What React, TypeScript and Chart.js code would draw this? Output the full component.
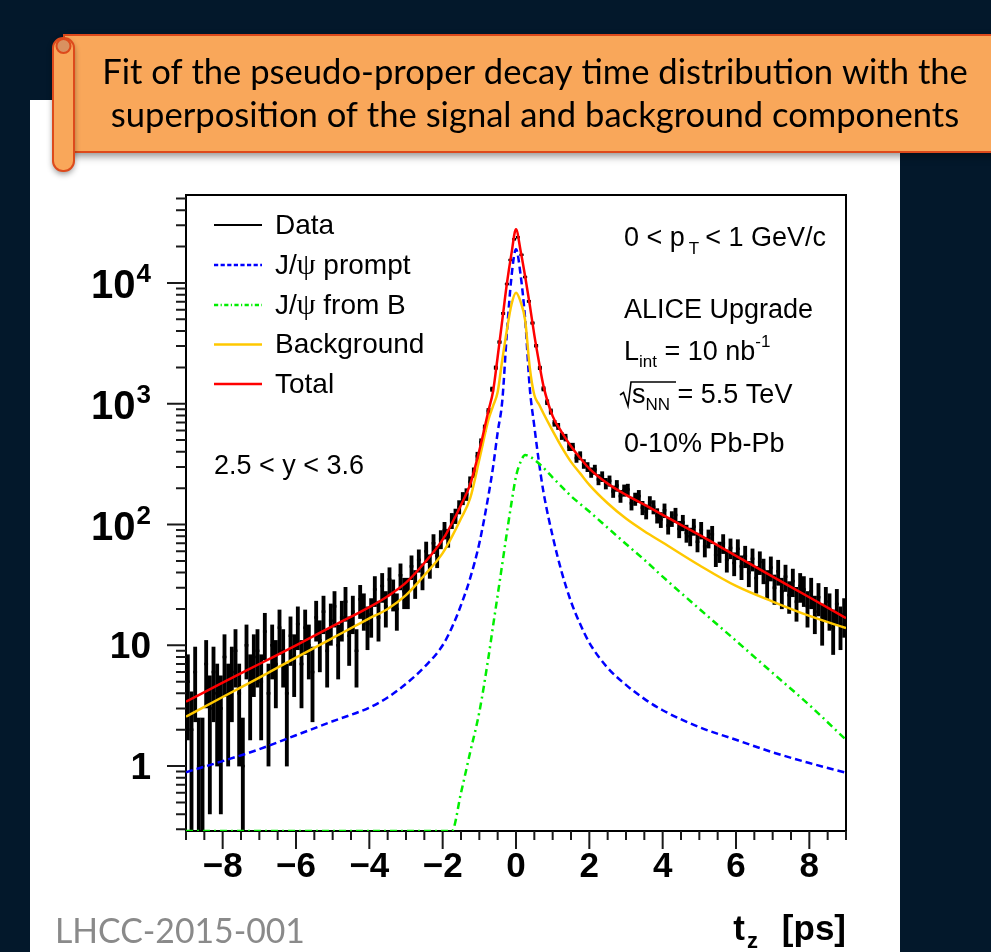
import React, { useEffect, useRef } from "react";
import { Chart, registerables } from "chart.js";

Chart.register(...registerables);

// ---------------- axis ranges ----------------
const X_MIN = -9;
const X_MAX = 9;
const Y_MIN = 0.29;
const Y_MAX = 53500;

// ---------------- data histogram (bin width 0.1 ps, from -9 to 9) ----------------
const BIN_LOW_EDGE = -9;
const BIN_WIDTH = 0.1;
const DATA_COUNTS = [
  5, 2, 6, 1, 1, 7, 3, 6, 4, 3,
  8, 4, 6, 9, 4, 1, 10, 5, 8, 9,
  5, 13, 4, 10, 7, 14, 9, 4, 12, 8,
  15, 7, 14, 10, 6, 17, 11, 19, 9, 16,
  21, 10, 17, 23, 12, 19, 9, 24, 20, 15,
  18, 29, 17, 31, 21, 35, 27, 20, 38, 28,
  28, 45, 33, 51, 38, 60, 46, 70, 55, 76, 90, 78, 108, 118, 140,
  165, 178, 226, 270, 368, 480, 630, 870, 1320, 1990, 3240, 5600, 9800, 15500, 23000,
  23900, 17100, 11200, 7050, 4660, 3020, 1980, 1330, 1030, 862, 690, 650, 540, 525, 440,
  440, 355, 372, 318, 300, 270, 285, 236, 250, 219, 230, 188, 210, 172, 192,
  195, 150, 163, 172, 138, 128, 152, 140, 119, 110,
  131, 98, 112, 120, 92, 104, 85, 80, 96, 72,
  90, 66, 77, 83, 56, 60, 70, 51, 64, 48,
  63, 45, 55, 40, 52, 36, 49, 42, 33, 44,
  30, 41, 28, 37, 26, 34, 23, 31, 29, 21,
  28, 19, 25, 16, 23, 20, 14, 22, 15, 18,
];
// statistical errors of the (weighted) data, in units of sqrt(N)
const DATA_ERROR_SCALE = 1.5;

// ---------------- fit components, sampled at CURVE_T ----------------
const CURVE_T = [
  -9, -8, -7, -6, -5, -4, -3.5, -3, -2.5, -2, -1.75, -1.5, -1.25, -1, -0.75, -0.625, -0.5, -0.375,
  -0.25, -0.125, 0, 0.125, 0.25, 0.375, 0.5, 0.625, 0.75, 1, 1.25, 1.5, 1.75, 2, 2.5, 3, 3.5, 4,
  5, 6, 7, 8, 9,
];
const PROMPT_VALUES = [
  0.89, 1.1, 1.38, 1.8, 2.35, 3.05, 3.7, 4.8, 6.6, 10, 14, 21.5, 36, 70, 175, 300, 580, 1050,
  3800, 11100, 19000, 11700, 5000, 1350, 650, 330, 185, 80, 40, 23, 15, 10.5, 6.5, 4.7, 3.6, 2.9,
  2.1, 1.65, 1.3, 1.06, 0.88,
];
const FROM_B_VALUES = [
  0.29, 0.29, 0.29, 0.29, 0.29, 0.29, 0.29, 0.29, 0.29, 0.29, 0.29, 0.6, 1.3, 2.8, 8, 14.5, 26, 47,
  85, 150, 250, 330, 376, 365, 345, 320, 295, 245, 205, 172, 148, 128, 94, 69, 51, 37,
  20, 10.9, 5.9, 3.2, 1.65,
];
const BACKGROUND_VALUES = [
  2.56, 3.73, 5.4, 7.9, 11.5, 16.7, 20, 26, 38, 58, 79, 112, 165, 345, 740, 960, 1250, 2300,
  4050, 6600, 8300, 7000, 4900, 2000, 1180, 990, 830, 596, 435, 330, 265, 213, 150, 112, 88, 71,
  46, 31, 23, 17.5, 13.9,
];
const TOTAL_VALUES = [
  3.41, 4.9, 7.0, 10, 14.4, 20.7, 25.5, 33, 48, 75, 102, 145, 215, 410, 880, 1270, 2450, 4900,
  9800, 17400, 27800, 18500, 11300, 6600, 3700, 2230, 1400, 790, 580, 445, 355, 290, 218, 176, 146, 120,
  82, 55, 37, 25, 16.8,
];

// ---------------- ticks / labels ----------------
const X_MAJOR_TICKS = [-8, -6, -4, -2, 0, 2, 4, 6, 8];
const X_TICK_LABELS = ["\u22128", "\u22126", "\u22124", "\u22122", "0", "2", "4", "6", "8"];
const X_MINOR_STEP = 0.5;
const Y_MAJOR_TICKS = [1, 10, 100, 1000, 10000];
const Y_TICK_BASES = ["1", "10", "10", "10", "10"];
const Y_TICK_EXPONENTS = ["", "", "2", "3", "4"];

const LEGEND_LABELS = ["Data", "J/\u03c8 prompt", "J/\u03c8 from B", "Background", "Total"];
const BANNER_LINES = [
  "Fit of the pseudo-proper decay time distribution with the",
  "superposition of the signal and background components",
];
const FOOTER_TEXT = "LHCC-2015-001";

// ---------------- styles ----------------
const NAVY = "#03182b";
const ORANGE = "#f9a75a";
const ORANGE_EDGE = "#dd4a1c";
const C_DATA = "#000000";
const C_PROMPT = "#0000ff";
const C_FROMB = "#00ee00";
const C_BKG = "#ffc800";
const C_TOTAL = "#ff0000";
const DASH_PROMPT = [7, 4];
const DASH_FROMB = [7, 4, 2, 4];
const SANS = '"Liberation Sans", Arial, Helvetica, sans-serif';
const SERIF = '"Liberation Serif", "Times New Roman", serif';

type Run = { text: string; font: string; dx?: number; dy?: number };

function drawRuns(ctx: CanvasRenderingContext2D, x: number, y: number, runs: Run[]) {
  let cx = x;
  for (const r of runs) {
    cx += r.dx || 0;
    ctx.font = r.font;
    ctx.fillText(r.text, cx, y + (r.dy || 0));
    cx += ctx.measureText(r.text).width;
  }
  return cx;
}

function psiRuns(label: string, size: number): Run[] {
  const idx = label.indexOf("\u03c8");
  if (idx < 0) return [{ text: label, font: `${size}px ${SANS}` }];
  return [
    { text: label.slice(0, idx), font: `${size}px ${SANS}` },
    { text: "\u03c8", font: `${size + 2}px ${SERIF}` },
    { text: label.slice(idx + 1), font: `${size}px ${SANS}` },
  ];
}

const backgroundPlugin = {
  id: "pageBackground",
  beforeDraw(chart: any) {
    const ctx: CanvasRenderingContext2D = chart.ctx;
    const W = chart.width;
    const H = chart.height;
    ctx.save();
    ctx.fillStyle = NAVY;
    ctx.fillRect(0, 0, W, H);
    ctx.fillStyle = "#ffffff";
    ctx.fillRect(30, 100, 870, H - 100);

    // banner body with shadow
    ctx.shadowColor = "rgba(0,0,0,0.45)";
    ctx.shadowBlur = 8;
    ctx.shadowOffsetY = 4;
    ctx.fillStyle = ORANGE;
    ctx.fillRect(64, 35, 960, 117);
    ctx.shadowColor = "transparent";
    ctx.strokeStyle = ORANGE_EDGE;
    ctx.lineWidth = 2;
    ctx.strokeRect(64, 35, 960, 117);

    // scroll roll on the left
    ctx.shadowColor = "rgba(0,0,0,0.45)";
    ctx.shadowBlur = 6;
    ctx.shadowOffsetY = 3;
    ctx.beginPath();
    (ctx as any).roundRect(53, 38, 21, 133, 10);
    ctx.fillStyle = ORANGE;
    ctx.fill();
    ctx.shadowColor = "transparent";
    ctx.stroke();
    ctx.beginPath();
    ctx.arc(63.5, 46, 7, 0, Math.PI * 2);
    ctx.fillStyle = "#d99160";
    ctx.fill();
    ctx.stroke();

    // banner text
    ctx.fillStyle = "#000000";
    ctx.textAlign = "center";
    ctx.textBaseline = "alphabetic";
    ctx.font = `100px Lato, "Open Sans", sans-serif`;
    const w100 = ctx.measureText(BANNER_LINES[0]).width;
    const size = (866 / w100) * 100;
    ctx.font = `${size}px Lato, "Open Sans", sans-serif`;
    ctx.fillText(BANNER_LINES[0], 535, 84);
    ctx.fillText(BANNER_LINES[1], 535, 127);

    // footer
    ctx.textAlign = "left";
    ctx.fillStyle = "#8a8a8a";
    ctx.font = `100px Lato, "Open Sans", sans-serif`;
    const wf = ctx.measureText(FOOTER_TEXT).width;
    ctx.font = `${(250 / wf) * 100}px Lato, "Open Sans", sans-serif`;
    ctx.fillText(FOOTER_TEXT, 55, 943);
    ctx.restore();
  },
};

const axesPlugin = {
  id: "rootAxes",
  beforeDatasetsDraw(chart: any) {
    const ctx: CanvasRenderingContext2D = chart.ctx;
    const a = chart.chartArea;
    const xs = chart.scales.x;
    const ys = chart.scales.y;
    ctx.save();
    ctx.strokeStyle = "#000000";
    ctx.lineWidth = 2;
    ctx.strokeRect(a.left, a.top, a.right - a.left, a.bottom - a.top);

    ctx.strokeStyle = "#1a1a1a";
    ctx.lineWidth = 2;
    ctx.beginPath();
    for (let v = X_MIN; v <= X_MAX + 1e-9; v += X_MINOR_STEP) {
      const px = xs.getPixelForValue(v);
      const major = X_MAJOR_TICKS.includes(v);
      ctx.moveTo(px, a.bottom);
      ctx.lineTo(px, a.bottom + (major ? 18 : 9));
    }
    for (let e = -1; e <= 4; e++) {
      for (let m = 1; m <= 9; m++) {
        const v = m * Math.pow(10, e);
        if (v < Y_MIN || v > Y_MAX) continue;
        const py = ys.getPixelForValue(v);
        ctx.moveTo(a.left - (m === 1 ? 19 : 10), py);
        ctx.lineTo(a.left, py);
      }
    }
    ctx.stroke();

    // x labels
    ctx.fillStyle = "#000000";
    ctx.textAlign = "center";
    ctx.textBaseline = "alphabetic";
    ctx.font = `bold 35px ${SANS}`;
    X_MAJOR_TICKS.forEach((v, i) => {
      ctx.fillText(X_TICK_LABELS[i], xs.getPixelForValue(v), 877);
    });

    // y labels
    ctx.textAlign = "left";
    Y_MAJOR_TICKS.forEach((v, i) => {
      const py = ys.getPixelForValue(v);
      const base = Y_TICK_BASES[i];
      const exp = Y_TICK_EXPONENTS[i];
      const right = 151;
      if (exp) {
        ctx.font = `bold 26px ${SANS}`;
        const we = ctx.measureText(exp).width;
        ctx.font = `bold 40px ${SANS}`;
        const wb = ctx.measureText(base).width;
        const x0 = right - we - wb - 1;
        ctx.fillText(base, x0, py + 15);
        ctx.font = `bold 26px ${SANS}`;
        ctx.fillText(exp, x0 + wb + 1, py - 1);
      } else {
        ctx.font = `bold 37px ${SANS}`;
        const wb = ctx.measureText(base).width;
        ctx.fillText(base, right - wb, py + 13);
      }
    });

    // axis title
    ctx.font = `bold 35px ${SANS}`;
    ctx.textAlign = "right";
    ctx.fillText("[ps]", 846, 940);
    ctx.font = `bold 22px ${SANS}`;
    ctx.fillText("z", 758, 948);
    ctx.font = `bold 35px ${SANS}`;
    ctx.fillText("t", 745, 940);
    ctx.restore();
  },
  afterDraw(chart: any) {
    const ctx: CanvasRenderingContext2D = chart.ctx;
    ctx.save();
    ctx.textAlign = "left";
    ctx.textBaseline = "alphabetic";
    ctx.fillStyle = "#000000";

    // legend
    const rows = [225, 265, 305, 344.5, 384];
    const colors = [C_DATA, C_PROMPT, C_FROMB, C_BKG, C_TOTAL];
    const dashes = [[], DASH_PROMPT.map((d) => d * 0.6), DASH_FROMB.map((d) => d * 0.6), [], []];
    rows.forEach((ry, i) => {
      ctx.strokeStyle = colors[i];
      ctx.lineWidth = i === 0 ? 2 : 2.5;
      ctx.setLineDash(dashes[i]);
      ctx.beginPath();
      ctx.moveTo(214, ry);
      ctx.lineTo(262, ry);
      ctx.stroke();
      ctx.setLineDash([]);
      ctx.fillStyle = "#000000";
      drawRuns(ctx, 275, ry + 8.5, psiRuns(LEGEND_LABELS[i], 28));
    });

    // annotations
    const F = `27px ${SANS}`;
    const FS = `17px ${SANS}`;
    drawRuns(ctx, 624, 246, [
      { text: "0 < p", font: F },
      { text: "T", font: FS, dx: 4, dy: 8 },
      { text: "< 1 GeV/c", font: F, dx: 6 },
    ]);
    drawRuns(ctx, 624, 318, [{ text: "ALICE Upgrade", font: F }]);
    drawRuns(ctx, 624, 360, [
      { text: "L", font: F },
      { text: "int", font: FS, dy: 7 },
      { text: " = 10 nb", font: F },
      { text: "-1", font: FS, dy: -13 },
    ]);
    // sqrt(s_NN)
    ctx.strokeStyle = "#000000";
    ctx.lineWidth = 1.6;
    ctx.beginPath();
    ctx.moveTo(620, 395);
    ctx.lineTo(623.5, 392.5);
    ctx.lineTo(628, 406);
    ctx.lineTo(631, 382);
    ctx.lineTo(676, 382);
    ctx.stroke();
    drawRuns(ctx, 632, 403, [
      { text: "s", font: F },
      { text: "NN", font: FS, dy: 7 },
      { text: " = 5.5 TeV", font: F },
    ]);
    drawRuns(ctx, 624, 452, [{ text: "0-10% Pb-Pb", font: F }]);
    drawRuns(ctx, 214, 474, [{ text: "2.5 < y < 3.6", font: F }]);
    ctx.restore();
  },
};

export default function App() {
  const ref = useRef<HTMLCanvasElement>(null);
  useEffect(() => {
    const canvas = ref.current;
    if (!canvas) return;
    const binCenters = DATA_COUNTS.map((_, i) => BIN_LOW_EDGE + BIN_WIDTH * (i + 0.5));
    const errorBars = DATA_COUNTS.map((n, i) => {
      const err = DATA_ERROR_SCALE * Math.sqrt(n);
      return { x: binCenters[i], y: [Math.max(n - err, Y_MIN), n + err] };
    });
    const dataMarks = DATA_COUNTS.map((n, i) => ({ x: binCenters[i], y: n }));
    const curve = (vals: number[]) => CURVE_T.map((t, i) => ({ x: t, y: vals[i] }));
    const lineBase = {
      type: "line" as const,
      pointRadius: 0,
      borderWidth: 2.5,
      fill: false,
      cubicInterpolationMode: "monotone" as const,
    };
    const chart = new Chart(canvas, {
      type: "line",
      data: {
        datasets: [
          { ...lineBase, label: "Total", data: curve(TOTAL_VALUES), borderColor: C_TOTAL, order: 0 },
          { ...lineBase, label: "Background", data: curve(BACKGROUND_VALUES), borderColor: C_BKG, order: 1 },
          {
            ...lineBase,
            label: "J/psi from B",
            data: curve(FROM_B_VALUES),
            borderColor: C_FROMB,
            borderDash: DASH_FROMB,
            order: 2,
          },
          {
            ...lineBase,
            label: "J/psi prompt",
            data: curve(PROMPT_VALUES),
            borderColor: C_PROMPT,
            borderDash: DASH_PROMPT,
            order: 3,
          },
          {
            type: "line",
            label: "Data",
            data: dataMarks,
            showLine: false,
            pointStyle: "line",
            pointRadius: 1.9,
            pointBorderWidth: 2.5,
            pointBorderColor: C_DATA,
            pointBackgroundColor: C_DATA,
            order: 4,
          } as any,
          {
            type: "bar",
            label: "Data errors",
            data: errorBars as any,
            backgroundColor: C_DATA,
            borderWidth: 0,
            barThickness: 3.2,
            grouped: false,
            order: 5,
          } as any,
        ],
      },
      options: {
        animation: false,
        responsive: false,
        devicePixelRatio: 1,
        events: [],
        layout: { padding: { left: 186, top: 195, right: 145, bottom: 121 } },
        scales: {
          x: { type: "linear", min: X_MIN, max: X_MAX, offset: false, display: false },
          y: { type: "logarithmic", min: Y_MIN, max: Y_MAX, display: false },
        },
        plugins: { legend: { display: false }, tooltip: { enabled: false } },
      },
      plugins: [backgroundPlugin, axesPlugin],
    } as any);
    return () => chart.destroy();
  }, []);
  return (
    <div style={{ position: "fixed", left: 0, top: 0, width: 991, height: 952, background: NAVY }}>
      <canvas ref={ref} width={991} height={952} style={{ display: "block", width: 991, height: 952 }} />
    </div>
  );
}
